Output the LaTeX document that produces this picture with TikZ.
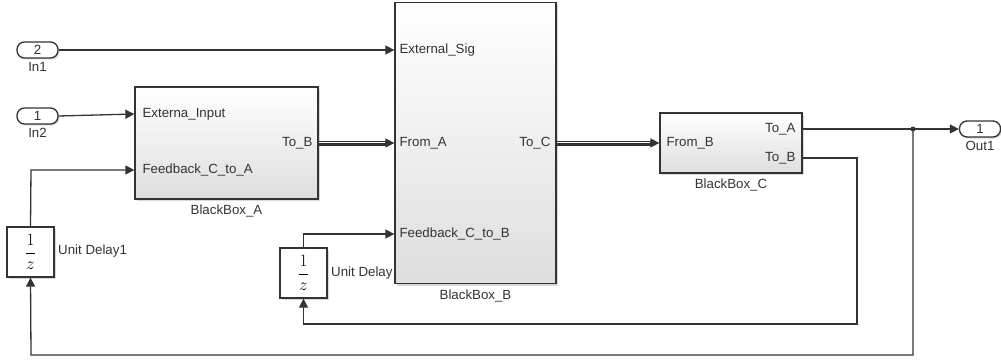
\documentclass[tikz,border=0pt]{standalone}
\usepackage{fontspec}
\setmainfont{Liberation Sans}
\usetikzlibrary{arrows.meta,shadows,calc}
\definecolor{ln}{HTML}{333333}
\definecolor{tx}{HTML}{333333}
\tikzset{
  lbl/.style={font=\fontsize{13.3}{15}\selectfont, text=tx, inner sep=0pt},
  blk/.style={draw=ln, line width=1.3pt, top color=white, bottom color=black!13,
     drop shadow={opacity=0.3, shadow xshift=2pt, shadow yshift=-2pt}, inner sep=0pt},
  delay/.style={draw=ln, line width=1.3pt, fill=white,
     drop shadow={opacity=0.3, shadow xshift=2pt, shadow yshift=-2pt},
     minimum width=47pt, minimum height=50pt, inner sep=0pt},
  pill/.style={draw=ln, line width=1.3pt, fill=white, rounded corners=7.5pt,
     drop shadow={opacity=0.3, shadow xshift=1.5pt, shadow yshift=-1.5pt},
     minimum width=41pt, minimum height=16pt, inner sep=0pt,
     font=\fontsize{13.3}{15}\selectfont, text=tx},
  wire/.style={draw=ln, line width=1.3pt},
  arr/.style={wire, -{Triangle[length=9pt,width=9pt]}},
  busbase/.style={draw=ln, line width=5pt},
  busgap/.style={draw=white, line width=2.8pt},
  busmid/.style={draw=ln, line width=1pt},
  dot/.style={circle, fill=ln, minimum size=5pt, inner sep=0pt},
}
\newcommand{\fracz}{\fontsize{16}{18}\selectfont$\displaystyle\frac{1}{z}$}
\begin{document}
\begin{tikzpicture}[x=1pt,y=-1pt]
\useasboundingbox (0,0) rectangle (1001,361);

% inports / outport
\node[pill] (in1) at (37.5,50) {2};
\node[lbl, anchor=north] at (37.5,62) {In1};
\node[pill] (in2) at (37.5,116) {1};
\node[lbl, anchor=north] at (37.5,128) {In2};
\node[pill] (out1) at (980,129) {1};
\node[lbl, anchor=north] at (980,141) {Out1};

% unit delays
\node[delay] (ud1) at (30.5,252) {\fracz};
\node[lbl, anchor=west] (ud1l) at (58,251) {Unit Delay1};
\node[delay] (ud) at (303.5,273) {\fracz};
\node[lbl, anchor=west] (udl) at (331,273) {Unit Delay};

% blocks
\node[blk, minimum width=183pt, minimum height=112pt] (A) at (226.5,143) {};
\node[lbl, anchor=north] at (226.5,205) {BlackBox\_A};
\node[blk, minimum width=161pt, minimum height=281pt] (B) at (475.5,143) {};
\node[lbl, anchor=north] at (475.5,290) {BlackBox\_B};
\node[blk, minimum width=142pt, minimum height=60pt] (C) at (731,143) {};
\node[lbl, anchor=north] at (731,179) {BlackBox\_C};

% port coordinates
\coordinate (Ai1) at ($(A.west |- 0,114)$);
\coordinate (Ai2) at ($(A.west |- 0,170)$);
\coordinate (Ao)  at (A.east);
\coordinate (Bi1) at ($(B.west |- 0,50)$);
\coordinate (Bi2) at (B.west);
\coordinate (Bi3) at ($(B.west |- 0,234)$);
\coordinate (Bo)  at (B.east);
\coordinate (Ci)  at (C.west);
\coordinate (Co1) at ($(C.east |- 0,129)$);
\coordinate (Co2) at ($(C.east |- 0,158)$);

% port labels
\node[lbl, anchor=west] at ($(Ai1)+(8,0)$) {Externa\_Input};
\node[lbl, anchor=west] at ($(Ai2)+(8,0)$) {Feedback\_C\_to\_A};
\node[lbl, anchor=east] at ($(Ao)+(-6,0)$) {To\_B};
\node[lbl, anchor=west] at ($(Bi1)+(5,0)$) {External\_Sig};
\node[lbl, anchor=west] at ($(Bi2)+(5,0)$) {From\_A};
\node[lbl, anchor=west] at ($(Bi3)+(5,0)$) {Feedback\_C\_to\_B};
\node[lbl, anchor=east] at ($(Bo)+(-6,0)$) {To\_C};
\node[lbl, anchor=west] at ($(Ci)+(7,0)$) {From\_B};
\node[lbl, anchor=east] at ($(Co1)+(-7,0)$) {To\_A};
\node[lbl, anchor=east] at ($(Co2)+(-7,0)$) {To\_B};

% junction
\node[dot] (j) at (913,129) {};
\coordinate (jb) at (913,355);
\coordinate (lb) at (31,355);
\coordinate (ud1t) at (31,170);
\coordinate (cr) at (857,158);
\coordinate (crb) at (857,324);
\coordinate (udb) at (303.5,324);
\coordinate (udt) at (303.5,234);

% signal wires
\draw[arr] (in1.east) -- (Bi1);
\draw[arr] (in2.east) -- (Ai1);
\draw[wire] (Co1) -- (j.center);
\draw[arr] (j.center) -- (out1.west);
\draw[arr] (j.center) -- (jb) -- (lb) -- (ud1.south);
\draw[arr] (ud1.north) -- (ud1t) -- (Ai2);
\draw[arr] (Co2) -- (cr) -- (crb) -- (udb) -- (ud.south);
\draw[arr] (ud.north) -- (udt) -- (Bi3);

% buses
\foreach \s/\t in {Ao/Bi2, Bo/Ci}{
  \draw[busbase] (\s) -- ($(\t)+(-8,0)$);
  \draw[busgap] (\s) -- ($(\t)+(-8,0)$);
  \draw[busmid] (\s) -- ($(\t)+(-8,0)$);
  \draw[arr] ($(\t)+(-9,0)$) -- (\t);
}
\end{tikzpicture}
\end{document}
